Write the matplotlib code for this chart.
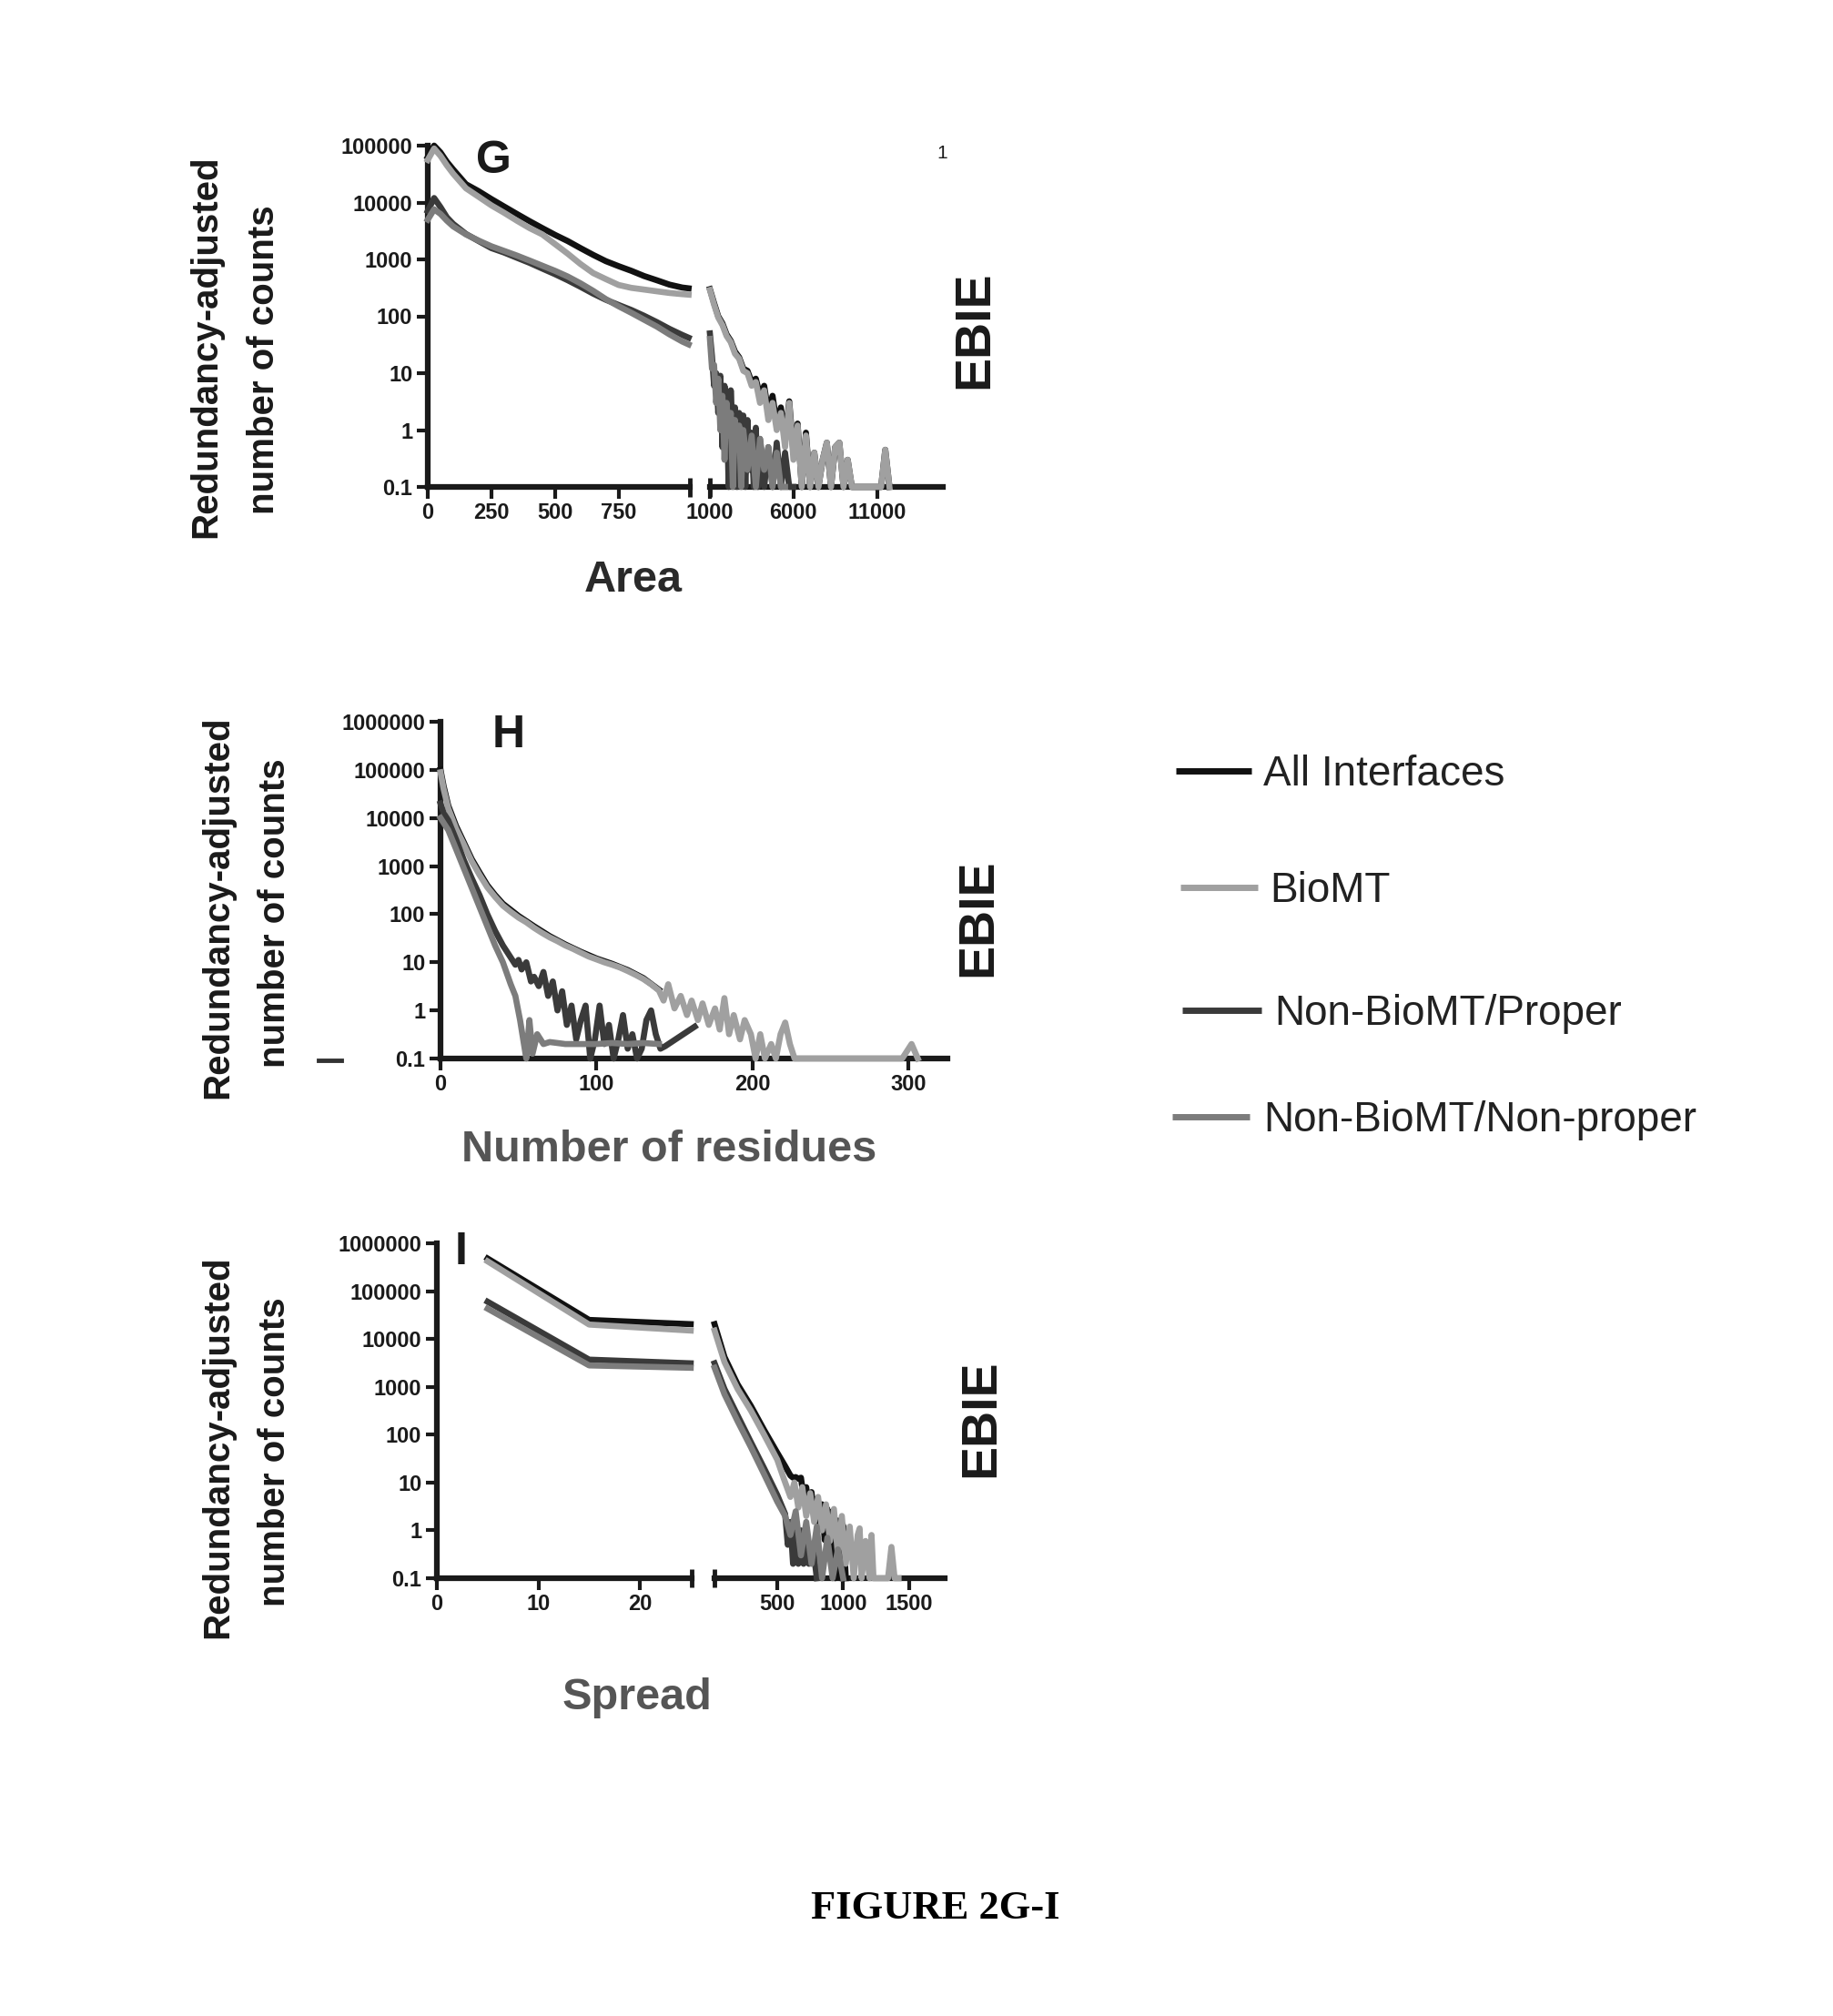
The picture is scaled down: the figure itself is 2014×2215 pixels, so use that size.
import matplotlib
matplotlib.use("Agg")
import matplotlib.pyplot as plt
from matplotlib.lines import Line2D

# ---------------- data ----------------
series_names = ["All Interfaces", "BioMT", "Non-BioMT/Proper", "Non-BioMT/Non-proper"]

# Panel G (Area) - left segment
g_x = [0, 25, 50, 75, 100, 150, 200, 250, 300, 350, 400, 450, 500, 550, 600, 650, 700, 750, 800, 850, 900, 950, 1000, 1025]
g_all = [63000, 100000, 76000, 52000, 38000, 21000, 15800, 11500, 8500, 6300, 4700, 3550, 2700, 2100, 1580, 1200, 930, 760, 630, 510, 430, 360, 320, 310]
g_bio = [56000, 89000, 66000, 45000, 32000, 17800, 12600, 8900, 6600, 4800, 3550, 2750, 1860, 1260, 830, 575, 450, 355, 316, 295, 275, 257, 245, 240]
g_prop = [7100, 12000, 8300, 5500, 4200, 2800, 2100, 1580, 1320, 1070, 870, 690, 550, 430, 330, 250, 195, 158, 129, 102, 79, 60, 47, 42]
g_nonp = [5000, 7600, 6300, 4800, 3800, 2750, 2140, 1700, 1410, 1170, 955, 775, 630, 500, 380, 280, 200, 150, 115, 87, 66, 48, 36, 32]

# Panel G - right segment
gr_x = [1000, 1250, 1500, 1750, 2000, 2250, 2500, 2750, 3000, 3250, 3500, 3750, 4000, 4250, 4500, 4750, 5000,
        5250, 5500, 5750, 6000, 6250, 6500, 6750, 7000, 7250, 7500, 7750, 8000, 8250, 8500, 8750, 9000, 9250,
        9500, 9750, 10000, 10250, 10500, 10750, 11000, 11250, 11500, 11750]
gr_all = [300, 170, 100, 75, 48, 37, 24, 19, 12, 11, 7, 8, 4, 6, 2, 4, 1.3, 2.5, 0.7, 3.2, 0.4, 1.3, 0.1, 0.9,
          0.1, 0.4, 0.1, 0.3, 0.6, 0.1, 0.5, 0.6, 0.1, 0.3, 0.1, 0.1, 0.1, 0.1, 0.1, 0.1, 0.1, 0.1, 0.45, 0.1]
gr_bio = [290, 160, 95, 70, 45, 35, 22, 18, 11, 10, 6, 7, 3, 5, 1.5, 3, 1, 2, 0.5, 3, 0.3, 1.2, 0.1, 0.8,
          0.1, 0.4, 0.1, 0.3, 0.6, 0.1, 0.5, 0.6, 0.1, 0.3, 0.1, 0.1, 0.1, 0.1, 0.1, 0.1, 0.1, 0.1, 0.45, 0.1]
grp_x = [1000, 1125, 1250, 1375, 1500, 1625, 1750, 1875, 2000, 2125, 2250, 2375, 2500, 2625, 2750, 2875, 3000,
         3125, 3250, 3375, 3500, 3625, 3750, 3875, 4000, 4250, 4500, 4750, 5000, 5250, 5500, 5750, 6000]
gr_prop = [50, 20, 6, 10, 2, 9, 0.5, 6, 3, 0.1, 5, 0.8, 2.5, 0.1, 2, 0.4, 1.8, 0.1, 1.5, 0.2, 0.9, 0.1, 1.1,
           0.1, 0.7, 0.1, 0.5, 0.1, 0.6, 0.1, 0.4, 0.1, 0.1]
grn_x = [1000, 1125, 1250, 1375, 1500, 1625, 1750, 1875, 2000, 2125, 2250, 2375, 2500, 2625, 2750, 2875, 3000,
         3250, 3500, 3750, 4000, 4250, 4500, 4750, 5000, 5250, 5500]
gr_nonp = [40, 12, 14, 3, 8, 1, 4, 0.3, 3, 0.8, 2, 0.1, 1.5, 0.5, 1.2, 0.1, 1, 0.2, 0.8, 0.1, 0.7, 0.2, 0.5,
           0.1, 0.4, 0.1, 0.1]

# Panel H (Number of residues)
ha_x = [0, 2, 5, 10, 15, 20, 25, 30, 35, 40, 50, 60, 70, 80, 90, 100, 110, 120, 130, 140]
h_all = [100000, 46000, 18000, 6800, 3100, 1400, 740, 400, 250, 165, 92, 56, 35, 23.5, 16.5, 12, 9.3, 6.9, 4.7, 2.7]
hb_x = [0, 2, 5, 10, 15, 20, 25, 30, 35, 40, 45, 50, 55, 60, 65, 70, 75, 80, 85, 90, 95, 100, 105, 110, 115, 120,
        125, 130, 135, 140, 143, 146, 150, 154, 158, 161, 165, 168, 172, 176, 179, 182, 185, 188, 192, 195, 199,
        202, 205, 208, 212, 215, 218, 221, 224, 227, 296, 302, 306]
h_bio = [89000, 40000, 15800, 6000, 2800, 1260, 660, 363, 229, 151, 112, 85, 68, 52, 41, 33, 27.5, 22.4, 19, 15.8,
         13.2, 11.5, 10, 8.9, 7.8, 6.6, 5.5, 4.5, 3.5, 2.6, 1.6, 3.5, 1.1, 2, 0.8, 1.6, 0.63, 1.4, 0.5, 1.1, 0.4,
         1.8, 0.32, 0.8, 0.25, 0.63, 0.32, 0.1, 0.32, 0.1, 0.2, 0.1, 0.32, 0.56, 0.2, 0.1, 0.1, 0.2, 0.1]
hp_x = [0, 2, 5, 10, 15, 20, 25, 30, 35, 40, 45, 48, 50, 52, 55, 58, 60, 63, 66, 69, 72, 75, 78, 81, 84, 87, 90, 93,
        96, 99, 102, 105, 108, 111, 114, 117, 120, 123, 126, 129, 132, 135, 138, 141, 144, 163]
h_prop = [20000, 12600, 8900, 3550, 1320, 560, 250, 100, 45, 22.4, 12.6, 8.9, 11.2, 7.1, 10, 4, 5, 3.2, 6.3, 2, 4,
          1, 2.5, 0.5, 1.26, 0.25, 0.63, 1.26, 0.1, 0.25, 1.26, 0.2, 0.5, 0.1, 0.25, 0.8, 0.16, 0.32, 0.1, 0.16,
          0.63, 1, 0.32, 0.16, 0.18, 0.46]
hn_x = [0, 2, 5, 10, 15, 20, 25, 30, 35, 40, 45, 48, 51, 53, 55, 57, 59, 62, 66, 70, 75, 80, 90, 100, 110, 120, 130, 140]
h_nonp = [10000, 7900, 5600, 2240, 890, 355, 141, 56, 22.4, 10, 3.5, 2, 0.63, 0.25, 0.1, 0.63, 0.126, 0.32, 0.2,
          0.22, 0.21, 0.2, 0.2, 0.2, 0.21, 0.2, 0.21, 0.2]

# Panel I (Spread) - left segment
i_x = [5, 15, 25]
i_all = [480000, 25000, 20400]
i_bio = [420000, 20000, 15000]
i_prop = [60000, 3700, 3100]
i_nonp = [43000, 2800, 2500]

# Panel I - right segment
ira_x = [25, 100, 200, 300, 400, 500, 560, 600, 620, 640, 660, 680, 700, 720, 740, 760, 780, 800, 820, 840, 860,
         880, 900, 920, 940, 960, 980, 1000, 1020]
ir_all = [20400, 4200, 1120, 400, 126, 42, 22, 14, 12.6, 13, 12, 12.6, 5, 8, 2.8, 6.3, 2, 4.5, 1.26, 3.5, 0.63,
          2.8, 0.32, 2.5, 0.1, 1.6, 0.1, 1.26, 0.1]
irb_x = [25, 100, 200, 300, 400, 500, 550, 600, 630, 660, 690, 720, 750, 780, 810, 840, 870, 900, 930, 960, 990,
         1020, 1050, 1080, 1110, 1125, 1140, 1170, 1200, 1215, 1230, 1300, 1340, 1366, 1390, 1420]
ir_bio = [15000, 3300, 900, 320, 100, 30, 12, 5, 10, 3, 8, 2, 6, 1.5, 5, 1, 3.5, 0.6, 2.8, 0.3, 2, 0.2, 1.2, 0.1,
          0.8, 1.1, 0.1, 0.6, 0.1, 0.8, 0.1, 0.1, 0.1, 0.45, 0.1, 0.1]
irp_x = [25, 100, 200, 300, 400, 500, 560, 580, 600, 620, 640, 660, 680, 700, 720, 740, 770, 800]
ir_prop = [3100, 900, 250, 70, 20, 5.5, 2.2, 0.5, 1.5, 0.2, 1.2, 0.2, 1, 0.2, 0.6, 0.2, 0.5, 0.1]
irn_x = [25, 100, 200, 300, 400, 500, 560, 600, 640, 680, 720, 760, 800, 840, 880, 920, 960, 1000]
ir_nonp = [2500, 700, 190, 55, 15, 4, 2, 0.8, 2.5, 0.3, 1.5, 0.2, 1.2, 0.1, 0.7, 0.1, 0.4, 0.1]

# tick labels
y_ticks_5 = [0.1, 1, 10, 100, 1000, 10000, 100000]
y_labels_5 = ["0.1", "1", "10", "100", "1000", "10000", "100000"]
y_ticks_6 = [0.1, 1, 10, 100, 1000, 10000, 100000, 1000000]
y_labels_6 = ["0.1", "1", "10", "100", "1000", "10000", "100000", "1000000"]
g_left_ticks = [0, 250, 500, 750]
g_right_ticks = [1000, 6000, 11000]
h_ticks = [0, 100, 200, 300]
i_left_ticks = [0, 10, 20]
i_right_ticks = [500, 1000, 1500]

# ---------------- style ----------------
W, H = 2015, 2215
DPI = 100
plt.rcParams["font.family"] = ["Liberation Sans", "DejaVu Sans"]
fig = plt.figure(figsize=(W / DPI, H / DPI), dpi=DPI)
fig.patch.set_facecolor("white")

C_ALL = "#111111"
C_BIO = "#a0a0a0"
C_PROP = "#3a3a3a"
C_NONP = "#7c7c7c"
LW = 4.8
TXT = "#1a1a1a"


def px_axes(x0, x1, ytop, ybot):
    return fig.add_axes([x0 / W, 1 - ybot / H, (x1 - x0) / W, (ybot - ytop) / H])


def style(ax, xlim, ylim, xticks, yticks=None, ylabels=None, left=True):
    ax.set_facecolor("none")
    ax.set_yscale("log")
    ax.set_xlim(*xlim)
    ax.set_ylim(*ylim)
    for s in ["top", "right"]:
        ax.spines[s].set_visible(False)
    ax.spines["bottom"].set_linewidth(4.5)
    ax.spines["left"].set_linewidth(4.5)
    ax.spines["bottom"].set_color(TXT)
    ax.spines["left"].set_color(TXT)
    ax.tick_params(direction="out", length=9, width=3, pad=3, colors=TXT)
    ax.set_xticks(xticks, [str(t) for t in xticks], fontsize=17, fontweight="bold")
    if left:
        ax.set_yticks(yticks, ylabels, fontsize=17, fontweight="bold")
    else:
        ax.spines["left"].set_visible(False)
        ax.set_yticks([])
    ax.minorticks_off()


def brk(ax, xpos):
    ax.plot([xpos, xpos], [-0.028, 0.028], transform=ax.transAxes, color=TXT, lw=3.5,
            clip_on=False, solid_capstyle="butt")


def draw(ax, x, y, c, z):
    ax.plot(x, y, color=c, lw=LW, clip_on=False, zorder=z, solid_joinstyle="round")


# ---------- Panel G ----------
axg = px_axes(470, 758, 160, 535)
style(axg, (0, 1030), (0.1, 1e5), g_left_ticks, y_ticks_5, y_labels_5)
draw(axg, g_x, g_all, C_ALL, 3)
draw(axg, g_x, g_bio, C_BIO, 4)
draw(axg, g_x, g_prop, C_PROP, 5)
draw(axg, g_x, g_nonp, C_NONP, 6)
brk(axg, 1.0)

axg2 = px_axes(780, 1036, 160, 535)
style(axg2, (1000, 14950), (0.1, 1e5), g_right_ticks, left=False)
draw(axg2, gr_x, gr_all, C_ALL, 3)
draw(axg2, gr_x, gr_bio, C_BIO, 4)
draw(axg2, grp_x, gr_prop, C_PROP, 5)
draw(axg2, grn_x, gr_nonp, C_NONP, 6)
brk(axg2, 0.0)

# ---------- Panel H ----------
axh = px_axes(484, 1041, 793, 1163)
style(axh, (0, 325), (0.1, 1e6), h_ticks, y_ticks_6, y_labels_6)
draw(axh, ha_x, h_all, C_ALL, 3)
draw(axh, hb_x, h_bio, C_BIO, 4)
draw(axh, hp_x, h_prop, C_PROP, 5)
draw(axh, hn_x, h_nonp, C_NONP, 6)

# ---------- Panel I ----------
axi = px_axes(480, 760, 1366, 1734)
style(axi, (0, 25.1), (0.1, 1e6), i_left_ticks, y_ticks_6, y_labels_6)
draw(axi, i_x, i_all, C_ALL, 3)
draw(axi, i_x, i_bio, C_BIO, 4)
draw(axi, i_x, i_prop, C_PROP, 5)
draw(axi, i_x, i_nonp, C_NONP, 6)
brk(axi, 1.0)

axi2 = px_axes(785, 1038, 1366, 1734)
style(axi2, (24, 1770), (0.1, 1e6), i_right_ticks, left=False)
draw(axi2, ira_x, ir_all, C_ALL, 3)
draw(axi2, irb_x, ir_bio, C_BIO, 4)
draw(axi2, irp_x, ir_prop, C_PROP, 5)
draw(axi2, irn_x, ir_nonp, C_NONP, 6)
brk(axi2, 0.0)


# ---------- texts ----------
def ftext(x, y, s, **kw):
    return fig.text(x / W, 1 - y / H, s, **kw)


for (x1, y1, x2, y2) in [(226, 381, 290, 395), (239, 997, 302, 1003), (239, 1590, 302, 1595)]:
    ftext(x1, y1, "Redundancy-adjusted", rotation=90, ha="center", va="center",
          fontsize=29, fontweight="bold", color=TXT)
    ftext(x2, y2, "number of counts", rotation=90, ha="center", va="center",
          fontsize=29, fontweight="bold", color=TXT)

ftext(696, 638, "Area", ha="center", va="center", fontsize=35, fontweight="bold", color="#2a2a2a")
ftext(735, 1263, "Number of residues", ha="center", va="center", fontsize=35, fontweight="bold", color="#555555")
ftext(700, 1866, "Spread", ha="center", va="center", fontsize=35, fontweight="bold", color="#555555")

for (x, y) in [(1071, 362), (1075, 1008), (1078, 1558)]:
    ftext(x, y, "EBIE", rotation=90, ha="center", va="center", fontsize=40, fontweight="bold", color=TXT)

ftext(542, 177, "G", ha="center", va="center", fontsize=36, fontweight="bold", color=TXT)
ftext(559, 808, "H", ha="center", va="center", fontsize=36, fontweight="bold", color=TXT)
ftext(507, 1376, "I", ha="center", va="center", fontsize=36, fontweight="bold", color=TXT)

ftext(1035, 169, "1", ha="center", va="center", fontsize=15, color=TXT)
fig.add_artist(Line2D([350 / W, 375 / W], [1 - 1165 / H, 1 - 1165 / H], lw=3.5, color="#333333"))

# legend
leg_rows = [
    (series_names[0], C_ALL, 1292, 1375, 847, 1388),
    (series_names[1], C_BIO, 1297, 1382, 975, 1395),
    (series_names[2], C_PROP, 1299, 1386, 1110, 1400),
    (series_names[3], C_NONP, 1288, 1373, 1227, 1388),
]
for name, col, lx0, lx1, ly, tx in leg_rows:
    fig.add_artist(Line2D([lx0 / W, lx1 / W], [1 - ly / H, 1 - ly / H], lw=5, color=col,
                          solid_capstyle="butt"))
    ftext(tx, ly + 16, name, ha="left", va="baseline", fontsize=33, color="#222222")

ftext(1028, 2108, "FIGURE 2G-I", ha="center", va="baseline", fontsize=32, fontweight="bold",
      family=["Liberation Serif", "DejaVu Serif"], color="#000000")

fig.savefig("out.png", dpi=DPI, facecolor="white")
